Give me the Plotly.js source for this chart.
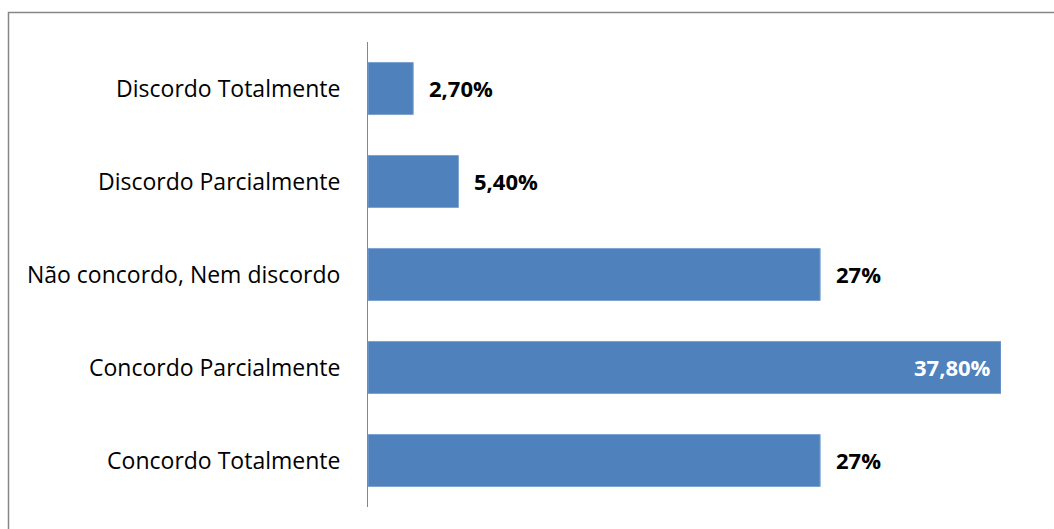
<!DOCTYPE html>
<html>
<head>
<meta charset="utf-8">
<script src="https://cdn.plot.ly/plotly-3.0.1.min.js"></script>
<style>
html,body{margin:0;padding:0;background:#fff;}
#chart{width:1054px;height:529px;}
</style>
</head>
<body>
<div id="chart"></div>
<script>
// Data (bottom to top)
const categories = ["Concordo Totalmente", "Concordo Parcialmente", "Não concordo, Nem discordo", "Discordo Parcialmente", "Discordo Totalmente"];
const values = [27, 37.8, 27, 5.4, 2.7];
const valueLabels = ["27%", "37,80%", "27%", "5,40%", "2,70%"];
const labelInside = [false, true, false, false, false];

const FONT = "Open Sans, Liberation Sans, sans-serif";

const trace = {
  type: "bar",
  orientation: "h",
  y: categories,
  x: values,
  marker: {color: "#4F81BD", line: {color: "#7FA3D0", width: 1}},
  textposition: "none",
  hoverinfo: "skip"
};

const annotations = categories.map((c, i) => ({
  x: values[i],
  y: c,
  xref: "x",
  yref: "y",
  text: "<b>" + valueLabels[i] + "</b>",
  showarrow: false,
  xanchor: labelInside[i] ? "right" : "left",
  xshift: labelInside[i] ? -8 : 14,
  yshift: 1,
  font: {family: FONT, size: 22, color: labelInside[i] ? "#FFFFFF" : "#000000"}
}));

const layout = {
  width: 1054,
  height: 529,
  margin: {l: 368, r: 53, t: 42, b: 22},
  paper_bgcolor: "#FFFFFF",
  plot_bgcolor: "#FFFFFF",
  showlegend: false,
  bargap: 0.44,
  xaxis: {range: [0, 37.8], visible: false, fixedrange: true},
  yaxis: {
    showline: true, linecolor: "#868686", linewidth: 1,
    showgrid: false, zeroline: false,
    ticks: "", ticklabelstandoff: 22,
    tickfont: {family: FONT, size: 23, color: "#000000"},
    fixedrange: true
  },
  annotations: annotations,
  shapes: [{
    type: "rect", xref: "paper", yref: "paper",
    x0: (8.5 - 368) / 633, x1: 1.2,
    y0: -0.2, y1: (507 - 12.5) / 465,
    line: {color: "#868686", width: 1.5},
    fillcolor: "rgba(0,0,0,0)",
    layer: "below"
  }]
};

Plotly.newPlot("chart", [trace], layout, {displayModeBar: false, staticPlot: true});
</script>
</body>
</html>
